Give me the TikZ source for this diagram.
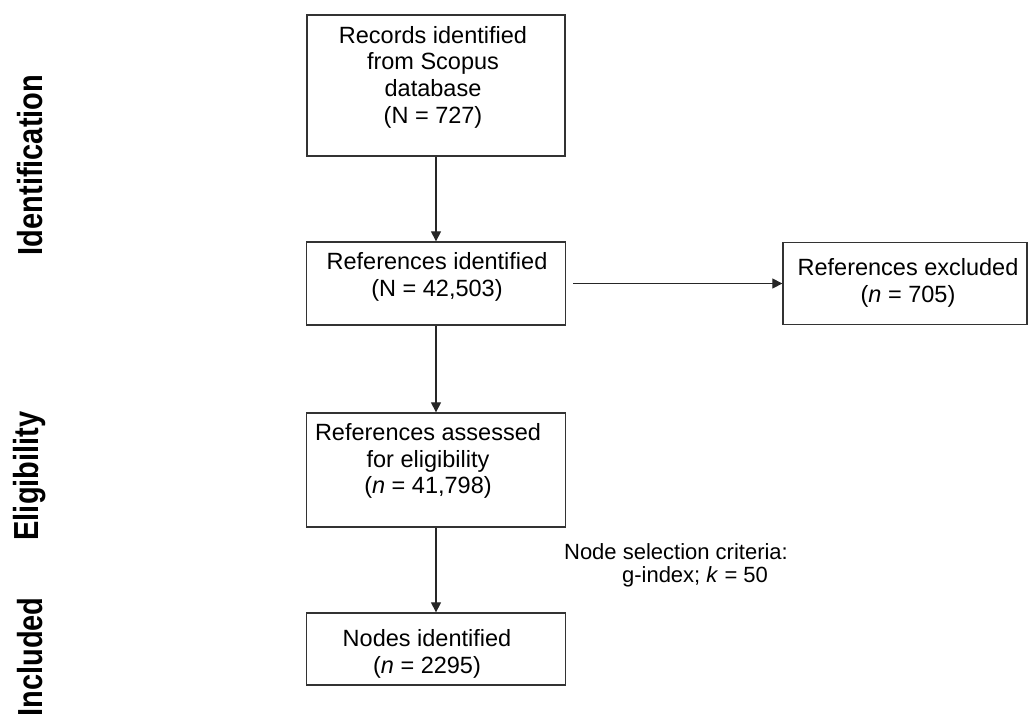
\documentclass[tikz,border=0pt]{standalone}
\usepackage{fontspec}
\setmainfont{Liberation Sans}
\usetikzlibrary{arrows.meta}
\begin{document}
\begin{tikzpicture}[x=1pt,y=-1pt,
  box/.style={draw=black!80, line width=1.3pt, inner sep=0pt},
  txt/.style={align=center, inner sep=0pt, font=\fontsize{23.5}{26.7}\selectfont},
  crit/.style={inner sep=0pt, font=\fontsize{22}{26}\selectfont},
  side/.style={rotate=90, inner sep=0pt, font=\fontsize{29}{32}\selectfont\bfseries},
  arr/.style={draw=black!85, line width=1.1pt, -{Triangle[length=10pt,width=10pt]}}]
\useasboundingbox (0,0) rectangle (1030,713);
% boxes
\node[box, minimum width=258pt, minimum height=141pt] (b1) at (436,85.5) {};
\node[box, minimum width=259pt, minimum height=83pt] (b2) at (436,283.5) {};
\node[box, minimum width=244pt, minimum height=82pt] (b3) at (905,283.5) {};
\node[box, minimum width=259pt, minimum height=114pt] (b4) at (436,470) {};
\node[box, minimum width=259pt, minimum height=72pt] (b5) at (436,649) {};
% texts
\node[txt] (t1) at (433,77) {Records identified\\from Scopus\\database\\(N = 727)};
\node[txt] (t2) at (437,277) {References identified\\(N = 42,503)};
\node[txt] (t3) at (908,283) {References excluded\\(\textit{n} = 705)};
\node[txt] (t4) at (428,461) {References assessed\\for eligibility\\(\textit{n} = 41,798)};
\node[txt] (t5) at (427,654) {Nodes identified\\(\textit{n} = 2295)};
\node[crit] (c1) at (676,552) {Node selection criteria:};
\node[crit] (c2) at (695,577) {g-index; \textit{k} = 50};
% side labels
\node[side] (l1) at (30,165) {\scalebox{1}[1.2]{Identification}};
\node[side] (l2) at (30,476) {\scalebox{1}[1.2]{Eligibility}};
\node[side] (l3) at (30,657) {\scalebox{1}[1.2]{Included}};
% connectors
\draw[arr] (b1.south) -- (b2.north);
\draw[arr] (b2.south) -- (b4.north);
\draw[arr] (b4.south) -- (b5.north);
\draw[arr, shorten <=7pt] (b2.east) -- (b3.west);
\end{tikzpicture}
\end{document}
